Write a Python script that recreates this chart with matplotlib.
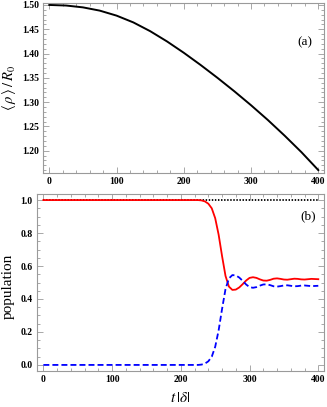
import matplotlib
matplotlib.use("Agg")
import matplotlib.pyplot as plt
from matplotlib.ticker import MultipleLocator, FormatStrFormatter

plt.rcParams['font.family'] = ['Liberation Serif', 'DejaVu Serif']
plt.rcParams['mathtext.fontset'] = 'stix'

# ---- panel (a): <rho>/R0 vs t|delta|
t_a = [0, 25, 50, 75, 100, 125, 150, 175, 200, 225, 250, 275, 300, 325, 350, 375, 400]
rho_a = [1.500, 1.4988, 1.495, 1.4883, 1.478, 1.464, 1.446, 1.4249, 1.4015, 1.3764,
         1.350, 1.3224, 1.2935, 1.2631, 1.2308, 1.1968, 1.160]

# ---- panel (b): populations
t_b = [0, 200, 225, 230, 235, 240, 245, 250, 255, 260, 265, 270, 275, 280, 285, 290, 295,
       300, 305, 310, 315, 320, 325, 330, 335, 340, 345, 350, 355, 360, 365, 370, 375,
       380, 385, 390, 395, 400]
pop_blue = [0.0, 0.0, 0.0, 0.002, 0.008, 0.022, 0.05, 0.11, 0.21, 0.34, 0.46, 0.525, 0.545,
            0.543, 0.53, 0.51, 0.488, 0.472, 0.468, 0.472, 0.481, 0.488, 0.489, 0.484,
            0.477, 0.475, 0.478, 0.482, 0.483, 0.480, 0.477, 0.478, 0.481, 0.482, 0.480,
            0.478, 0.479, 0.480]
pop_red = [1.0, 1.0, 1.0, 0.998, 0.992, 0.978, 0.95, 0.89, 0.79, 0.66, 0.54, 0.475, 0.455,
           0.457, 0.47, 0.49, 0.512, 0.528, 0.532, 0.528, 0.519, 0.512, 0.511, 0.516,
           0.523, 0.525, 0.522, 0.518, 0.517, 0.520, 0.523, 0.522, 0.519, 0.518, 0.520,
           0.522, 0.521, 0.520]
t_total = [0, 400]
pop_total = [1.0, 1.0]

FRAME = '#9a9a9a'

fig = plt.figure(figsize=(3.27, 4.07), dpi=100)
ax1 = fig.add_axes([43/327, 1-173/407, 281/327, 170/407])
ax2 = fig.add_axes([36.7/327, 1-370.7/407, 287.3/327, 176.4/407])

def style(ax):
    for s in ax.spines.values():
        s.set_color(FRAME)
        s.set_linewidth(0.8)
    ax.tick_params(which='both', direction='in', top=True, right=True,
                   color=FRAME, width=0.6, labelsize=7, pad=3)
    ax.tick_params(which='major', length=4)
    ax.tick_params(which='minor', length=2)
    for lab in ax.get_xticklabels() + ax.get_yticklabels():
        lab.set_fontweight('bold')
    ax.xaxis.set_major_locator(MultipleLocator(100))
    ax.xaxis.set_minor_locator(MultipleLocator(20))

ax1.plot(t_a, rho_a, color='black', lw=1.4)
ax1.set_xlim(-9.4, 408.5)
ax1.set_ylim(1.154, 1.504)
ax1.yaxis.set_major_locator(MultipleLocator(0.05))
ax1.yaxis.set_minor_locator(MultipleLocator(0.01))
ax1.yaxis.set_major_formatter(FormatStrFormatter('%.2f'))
style(ax1)
ax1.set_ylabel(r'$\langle\,\rho\,\rangle\,/\,R_0$', fontsize=10.5)
ax1.yaxis.set_label_coords(-0.088, 0.5)
ax1.text(380, 1.424, '(a)', fontsize=9.5, ha='center', va='center')

ax2.plot(t_total, pop_total, color='black', lw=1.3, ls=(0, (0.8, 0.9)))
ax2.plot(t_b, pop_red, color='red', lw=1.3)
ax2.plot(t_b, pop_blue, color='blue', lw=1.3, ls=(0, (3.3, 1.7)))
ax2.set_xlim(-9.7, 408.3)
ax2.set_ylim(-0.035, 1.035)
ax2.yaxis.set_major_locator(MultipleLocator(0.2))
ax2.yaxis.set_minor_locator(MultipleLocator(0.05))
ax2.yaxis.set_major_formatter(FormatStrFormatter('%.1f'))
style(ax2)
ax2.set_ylabel('population', fontsize=11)
ax2.yaxis.set_label_coords(-0.075, 0.48)
ax2.set_xlabel(r'$t\,|\delta|$', fontsize=11, labelpad=5)
ax2.text(385, 0.899, '(b)', fontsize=9.5, ha='center', va='center')

fig.savefig('out.png', dpi=100)
